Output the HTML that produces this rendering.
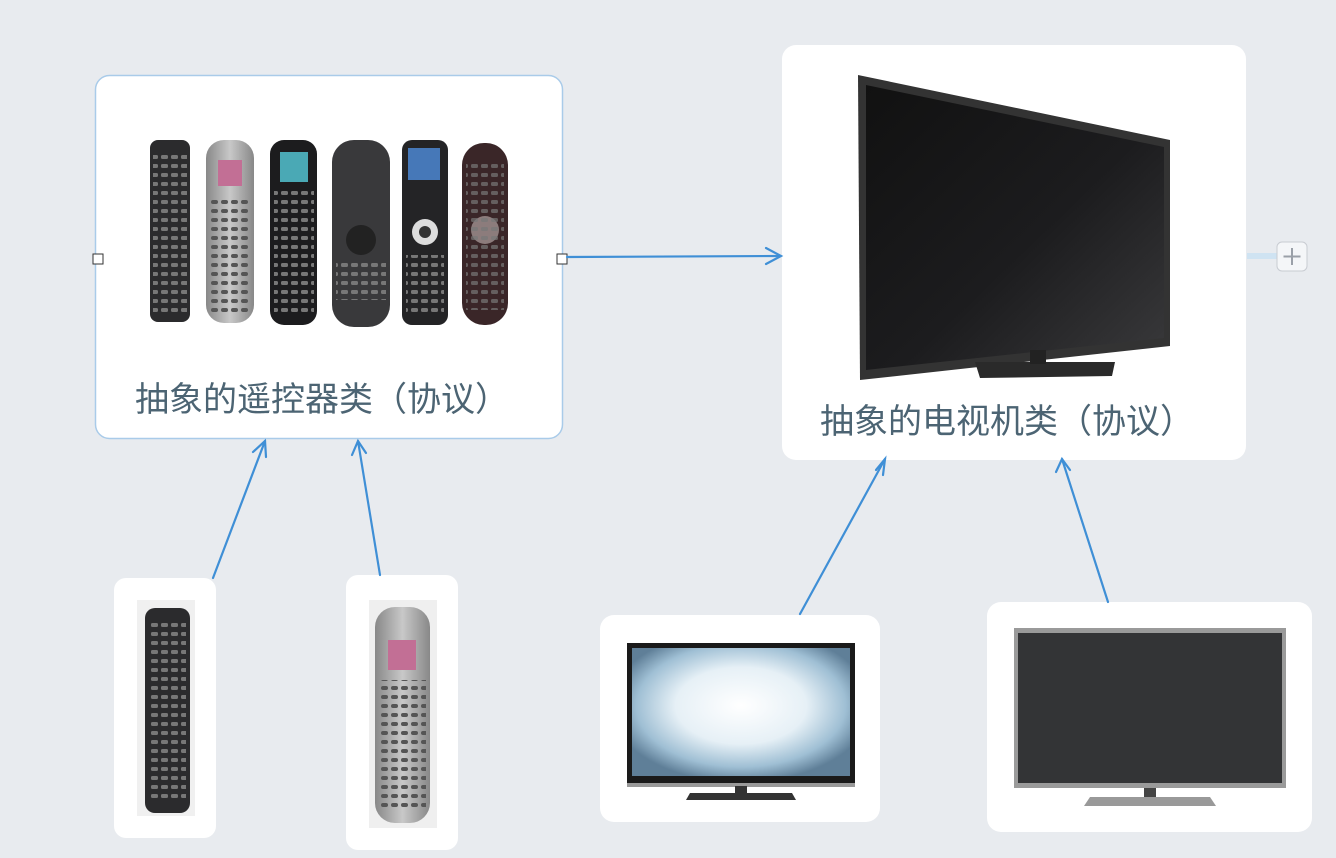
<!DOCTYPE html>
<html><head><meta charset="utf-8"><style>
html,body{margin:0;padding:0;background:#e8ebef;}
svg{display:block}
text{font-family:"Liberation Sans","Noto Sans CJK SC",sans-serif;}
</style></head><body>
<svg width="1336" height="858" viewBox="0 0 1336 858" xmlns="http://www.w3.org/2000/svg">
<defs>
<linearGradient id="scr" x1="0" y1="0" x2="1" y2="1"><stop offset="0" stop-color="#111"/><stop offset="0.55" stop-color="#1c1c1e"/><stop offset="1" stop-color="#3a3a3c"/></linearGradient>
<radialGradient id="sky" cx="0.5" cy="0.45" r="0.6"><stop offset="0" stop-color="#ffffff"/><stop offset="0.5" stop-color="#e6f0f6"/><stop offset="0.8" stop-color="#9fbfd4"/><stop offset="1" stop-color="#5f7f98"/></radialGradient>
<linearGradient id="slv" x1="0" x2="1"><stop offset="0" stop-color="#888"/><stop offset="0.5" stop-color="#c8c8c8"/><stop offset="1" stop-color="#888"/></linearGradient>
<pattern id="btnD" width="10" height="9" patternUnits="userSpaceOnUse"><rect x="1" y="2" width="7" height="4" rx="1.5" fill="#777"/></pattern>
<pattern id="btnS" width="10" height="9" patternUnits="userSpaceOnUse"><rect x="1" y="2" width="7" height="4" rx="2" fill="#555"/></pattern>
</defs>

<rect x="95.5" y="75.5" width="467" height="363" rx="14" fill="#fff" stroke="#a9cbe9" stroke-width="1.5"/>
<rect x="150" y="140" width="40" height="182" rx="8" fill="#2b2b2d"/><rect x="153" y="150" width="34" height="165" fill="url(#btnD)"/>
<rect x="206" y="140" width="48" height="183" rx="18" fill="url(#slv)"/><rect x="218" y="160" width="24" height="26" fill="#c26f95"/><rect x="210" y="195" width="40" height="120" fill="url(#btnS)"/>
<rect x="270" y="140" width="47" height="185" rx="14" fill="#1c1c1e"/><rect x="280" y="152" width="28" height="30" fill="#4aa9b5"/><rect x="274" y="190" width="40" height="125" fill="url(#btnD)"/>
<rect x="332" y="140" width="58" height="187" rx="22" fill="#39393b"/><circle cx="361" cy="240" r="15" fill="#222"/><rect x="336" y="260" width="50" height="40" fill="url(#btnD)"/>
<rect x="402" y="140" width="46" height="185" rx="10" fill="#242426"/><rect x="408" y="148" width="32" height="32" fill="#4678b8"/><circle cx="425" cy="232" r="13" fill="#ddd"/><circle cx="425" cy="232" r="6" fill="#333"/><rect x="406" y="255" width="38" height="62" fill="url(#btnD)"/>
<rect x="462" y="143" width="46" height="182" rx="22" fill="#3a2628"/><circle cx="485" cy="230" r="14" fill="#8c7c7c"/><rect x="466" y="160" width="38" height="150" fill="url(#btnD)" opacity="0.7"/>
<text x="322" y="411" font-size="34" fill="#4c6473" text-anchor="middle">抽象的遥控器类（协议）</text>
<rect x="93" y="254" width="10" height="10" fill="#fff" stroke="#333" stroke-width="1"/>
<rect x="557" y="254" width="10" height="10" fill="#fff" stroke="#333" stroke-width="1"/>

<rect x="782" y="45" width="464" height="415" rx="14" fill="#fff"/>
<polygon points="858,75 1170,140 1170,346 860,380" fill="#333"/>
<polygon points="866,85 1164,147 1164,338 866,370" fill="url(#scr)"/>
<polygon points="975,362 1115,362 1112,376 980,378" fill="#2a2a2a"/>
<rect x="1030" y="350" width="16" height="14" fill="#222"/>
<text x="1007" y="433" font-size="34" fill="#4c6473" text-anchor="middle">抽象的电视机类（协议）</text>

<rect x="1247" y="253" width="30" height="6" fill="#cfe3f2"/>
<rect x="1277" y="242" width="30" height="29" rx="5" fill="#f4f6f8" stroke="#c8ccd2"/>
<path d="M1292 248v17M1283.5 256.5h17" stroke="#9aa0a8" stroke-width="2"/>

<rect x="114" y="578" width="102" height="260" rx="12" fill="#fff"/>
<rect x="137" y="600" width="58" height="216" fill="#f0f0f0"/>
<rect x="145" y="608" width="45" height="205" rx="10" fill="#2b2b2d"/><rect x="148" y="618" width="38" height="185" fill="url(#btnD)"/>
<rect x="346" y="575" width="112" height="275" rx="12" fill="#fff"/>
<rect x="369" y="600" width="68" height="228" fill="#efefef"/>
<rect x="375" y="607" width="55" height="216" rx="20" fill="url(#slv)"/><rect x="388" y="640" width="28" height="30" fill="#c26f95"/><rect x="380" y="680" width="46" height="130" fill="url(#btnS)"/>

<rect x="600" y="615" width="280" height="207" rx="14" fill="#fff"/>
<rect x="627" y="643" width="228" height="140" fill="#1a1a1a"/>
<rect x="632" y="648" width="218" height="128" fill="url(#sky)"/>
<rect x="627" y="783" width="228" height="4" fill="#999"/>
<rect x="735" y="786" width="12" height="10" fill="#333"/>
<polygon points="690,793 792,793 796,800 686,800" fill="#333"/>

<rect x="987" y="602" width="325" height="230" rx="14" fill="#fff"/>
<rect x="1014" y="628" width="272" height="160" fill="#9a9a9a"/>
<rect x="1018" y="633" width="264" height="150" fill="#333436"/>
<rect x="1144" y="788" width="12" height="16" fill="#444"/>
<polygon points="1090,797 1210,797 1216,806 1084,806" fill="#999"/>

<g stroke="#3f8fd6" stroke-width="2.2" fill="none" stroke-linecap="round">
<path d="M567 257 L780 256"/><path d="M766 248 L781 256 L766 264"/>
<path d="M213 578 L265 441"/><path d="M253 452 L265 441 L266 457"/>
<path d="M380 575 L358 441"/><path d="M352 455 L358 441 L366 453"/>
<path d="M800 614 L885 459"/><path d="M876 470 L885 459 L883 475"/>
<path d="M1108 602 L1062 459"/><path d="M1056 472 L1062 459 L1070 470"/>
</g>
</svg>
</body></html>
